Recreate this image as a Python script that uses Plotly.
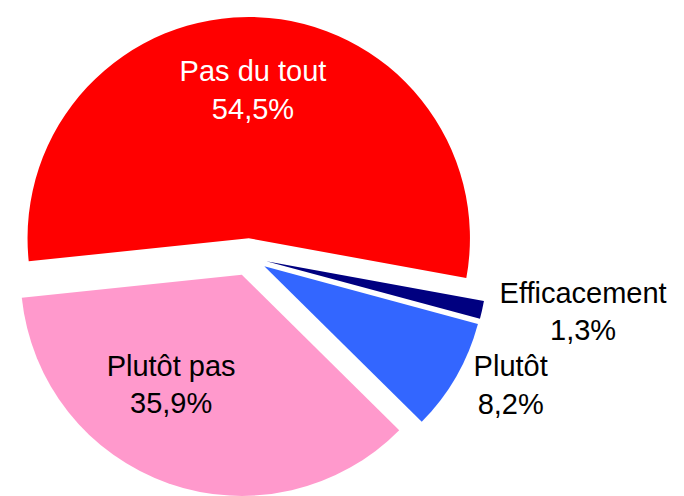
import plotly.graph_objects as go

labels = ["Pas du tout", "Plutôt pas", "Plutôt", "Efficacement"]
values = [54.5, 35.9, 8.2, 1.3]
pct_text = ["54,5%", "35,9%", "8,2%", "1,3%"]
colors = ["#FF0000", "#FF99CC", "#3366FF", "#000080"]
text_colors = ["white", "black", "black", "black"]
positions = ["inside", "inside", "outside", "outside"]

NBSP = "\u00a0"
# small layout padding so plotly's automatic inside-label placement lands
# where the reference's labels sit (blank lines under red label, trailing
# spaces to push the pink label a little to the left)
pad_after = [("<br>" + NBSP) * 2, "", "", ""]
pad_right = ["", NBSP * 8, "", ""]

texts = [
    f"{l}{pr}<br>{p}{pr}{pa}"
    for l, p, pr, pa in zip(labels, pct_text, pad_right, pad_after)
]

fig = go.Figure(
    go.Pie(
        labels=labels,
        values=values,
        text=texts,
        textinfo="text",
        hoverinfo="label+percent",
        sort=False,
        direction="counterclockwise",
        rotation=-96,
        pull=[0.085, 0.085, 0.085, 0.085],
        marker=dict(colors=colors, line=dict(width=0)),
        textposition=positions,
        insidetextorientation="horizontal",
        automargin=False,
        textfont=dict(family="Liberation Sans, Arial, sans-serif", size=29, color=text_colors),
        domain=dict(x=[0, 0.7018], y=[0, 0.996]),
        showlegend=False,
    )
)

fig.update_layout(
    width=684,
    height=496,
    margin=dict(l=0, r=0, t=0, b=0),
    paper_bgcolor="white",
    plot_bgcolor="white",
    showlegend=False,
)

fig.write_html("out.html")
